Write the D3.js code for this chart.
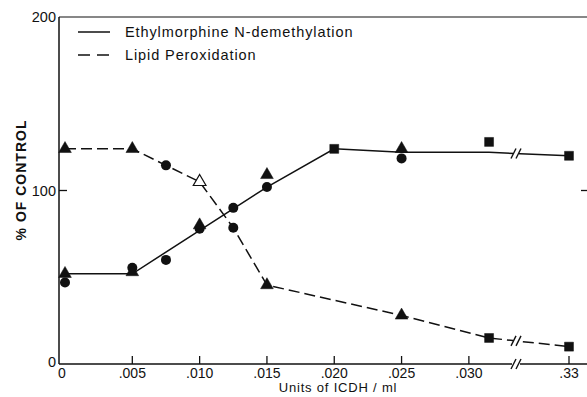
<!DOCTYPE html>
<html>
<head>
<meta charset="utf-8">
<script src="https://cdn.jsdelivr.net/npm/d3@7"></script>
<style>
  body { margin: 0; background: #fff; }
  svg { display: block; font-family: "Liberation Sans", Arial, sans-serif; }
</style>
</head>
<body>
<svg id="chart" width="587" height="397"></svg>
<script>
// ---------- Data ----------
const xTickValues = [0, 0.005, 0.010, 0.015, 0.020, 0.025, 0.030, 0.33];
const xTickLabels = ["0", ".005", ".010", ".015", ".020", ".025", ".030", ".33"];
const yTickValues = [0, 100, 200];

// Ethylmorphine N-demethylation (solid line)
const emLineDose = [0, 0.005, 0.015, 0.020, 0.025, 0.0315, 0.33];
const emLineVal  = [52, 52, 102, 124, 122, 122, 120];
const emCircleDose = [0, 0.005, 0.0075, 0.010, 0.0125, 0.015, 0.025];
const emCircleVal  = [47, 55.5, 60, 78, 90, 102, 118.5];
const emTriDose = [0, 0.005, 0.010, 0.015, 0.025];
const emTriVal  = [52, 53, 80, 109, 124];
const emSquareDose = [0.020, 0.0315, 0.33];
const emSquareVal  = [124, 128, 120];

// Lipid peroxidation (dashed line)
const lpLineDose = [0, 0.005, 0.0075, 0.010, 0.0125, 0.015, 0.025, 0.0315, 0.33];
const lpLineVal  = [124, 124, 114.5, 105, 78.5, 45.5, 28, 15, 10];
const lpTriDose = [0, 0.005, 0.015, 0.025];
const lpTriVal  = [124, 124, 45.5, 28];
const lpOpenTriDose = [0.010];
const lpOpenTriVal  = [105];
const lpCircleDose = [0.0075, 0.0125];
const lpCircleVal  = [114.5, 78.5];
const lpSquareDose = [0.0315, 0.33];
const lpSquareVal  = [15, 10];

const breakDose = 0.0335; // axis break between .030 and .33

// ---------- Layout ----------
const svg = d3.select("#chart");
const axisLeft = 59, axisRight = 587, axisTop = 17, axisBottom = 364;

// broken x axis: linear up to the break, then squeezed to .33
const x = d3.scaleLinear().domain([0, breakDose, 0.33]).range([65, 516, 569]);
const y = d3.scaleLinear().domain([0, 200]).range([axisBottom, axisTop]);

const zip = (a, b) => a.map((d, i) => [d, b[i]]);

// ---------- Frame ----------
const frame = svg.append("g").attr("stroke", "#111").attr("stroke-width", 1.5).attr("fill", "none");
frame.append("line").attr("x1", axisLeft).attr("x2", axisLeft).attr("y1", axisTop).attr("y2", axisBottom);
frame.append("line").attr("x1", axisLeft).attr("x2", axisRight).attr("y1", axisTop).attr("y2", axisTop).attr("stroke-width", 1.2);
// bottom axis with gap at the break
frame.append("line").attr("x1", axisLeft).attr("x2", x(breakDose) - 4).attr("y1", axisBottom).attr("y2", axisBottom);
frame.append("line").attr("x1", x(breakDose) + 4).attr("x2", axisRight).attr("y1", axisBottom).attr("y2", axisBottom);

// x ticks (pointing inward)
const xt = svg.append("g");
xt.selectAll("line").data(xTickValues.filter(d => d > 0)).join("line")
  .attr("x1", d => x(d)).attr("x2", d => x(d))
  .attr("y1", axisBottom).attr("y2", axisBottom - 8)
  .attr("stroke", "#111").attr("stroke-width", 1.3);
xt.selectAll("text").data(xTickValues).join("text")
  .attr("x", d => x(d) - (d === 0 ? 3 : 0))
  .attr("y", axisBottom + 14)
  .attr("text-anchor", "middle")
  .attr("font-size", 14)
  .attr("fill", "#111")
  .text((d, i) => xTickLabels[i]);

// y ticks
const yt = svg.append("g");
yt.selectAll("line").data(yTickValues.filter(d => d === 100)).join("line")
  .attr("x1", axisLeft).attr("x2", axisLeft + 8)
  .attr("y1", d => y(d)).attr("y2", d => y(d))
  .attr("stroke", "#111").attr("stroke-width", 1.3);
yt.selectAll("line.r").data(yTickValues.filter(d => d === 100)).join("line")
  .attr("class", "r")
  .attr("x1", axisRight - 6).attr("x2", axisRight)
  .attr("y1", d => y(d)).attr("y2", d => y(d))
  .attr("stroke", "#111").attr("stroke-width", 1.3);
yt.selectAll("text").data(yTickValues).join("text")
  .attr("x", axisLeft - 3)
  .attr("y", d => y(d) + (d === 0 ? 3 : 5))
  .attr("text-anchor", "end")
  .attr("font-size", 14.5)
  .attr("fill", "#111")
  .text(d => d);

// axis titles
svg.append("text")
  .attr("transform", "translate(26,180) rotate(-90)")
  .attr("text-anchor", "middle")
  .attr("font-size", 14).attr("font-weight", "bold")
  .attr("letter-spacing", 1)
  .attr("fill", "#111")
  .text("% OF CONTROL");

svg.append("text")
  .attr("x", 338).attr("y", 392)
  .attr("text-anchor", "middle")
  .attr("font-size", 13)
  .attr("letter-spacing", 0.8)
  .attr("fill", "#111")
  .text("Units of ICDH / ml");

// ---------- Lines ----------
const line = d3.line().x(d => x(d[0])).y(d => y(d[1]));

svg.append("path")
  .datum(zip(emLineDose, emLineVal))
  .attr("d", line)
  .attr("fill", "none").attr("stroke", "#111").attr("stroke-width", 1.5);

svg.append("path")
  .datum(zip(lpLineDose, lpLineVal))
  .attr("d", line)
  .attr("fill", "none").attr("stroke", "#111").attr("stroke-width", 1.5)
  .attr("stroke-dasharray", "11,5");

// ---------- Break marks ----------
function valueAt(doses, vals, d) {
  const i = d3.bisectRight(doses, d) - 1;
  const t = (x(d) - x(doses[i])) / (x(doses[i + 1]) - x(doses[i]));
  return y(vals[i]) + t * (y(vals[i + 1]) - y(vals[i]));
}
const breakYs = [
  valueAt(emLineDose, emLineVal, breakDose),
  valueAt(lpLineDose, lpLineVal, breakDose),
  axisBottom
];
const bx = x(breakDose);
const br = svg.append("g");
breakYs.forEach(by => {
  br.append("rect").attr("x", bx - 3).attr("y", by - 3).attr("width", 6).attr("height", 6).attr("fill", "#fff");
  [-2.5, 2.5].forEach(off => {
    br.append("line")
      .attr("x1", bx + off - 2.5).attr("y1", by + 5)
      .attr("x2", bx + off + 2.5).attr("y2", by - 5)
      .attr("stroke", "#111").attr("stroke-width", 1.4);
  });
});

// ---------- Markers ----------
const tri = d3.symbol().type(d3.symbolTriangle).size(70);
const sq = d3.symbol().type(d3.symbolSquare).size(80);
const marks = svg.append("g");

function circles(doses, vals) {
  marks.append("g").selectAll("circle").data(zip(doses, vals)).join("circle")
    .attr("cx", d => x(d[0])).attr("cy", d => y(d[1])).attr("r", 5)
    .attr("fill", "#111");
}
function symbols(doses, vals, gen, filled) {
  marks.append("g").selectAll("path").data(zip(doses, vals)).join("path")
    .attr("transform", d => `translate(${x(d[0])},${y(d[1])})`)
    .attr("d", gen)
    .attr("fill", filled ? "#111" : "#fff")
    .attr("stroke", "#111").attr("stroke-width", filled ? 0.5 : 1.2);
}

circles(emCircleDose, emCircleVal);
symbols(emTriDose, emTriVal, tri, true);
symbols(emSquareDose, emSquareVal, sq, true);
circles(lpCircleDose, lpCircleVal);
symbols(lpTriDose, lpTriVal, tri, true);
symbols(lpOpenTriDose, lpOpenTriVal, tri, false);
symbols(lpSquareDose, lpSquareVal, sq, true);

// ---------- Legend ----------
const legend = svg.append("g");
const legendItems = ["Ethylmorphine N-demethylation", "Lipid Peroxidation"];
legendItems.forEach((label, i) => {
  const ly = 32 + i * 23;
  legend.append("line")
    .attr("x1", 78).attr("x2", 110).attr("y1", ly).attr("y2", ly)
    .attr("stroke", "#111").attr("stroke-width", 1.5)
    .attr("stroke-dasharray", i === 1 ? "12,7" : null);
  legend.append("text")
    .attr("x", 125).attr("y", ly + 5)
    .attr("font-size", 14.5)
    .attr("letter-spacing", 0.9)
    .attr("fill", "#111")
    .text(label);
});
</script>
</body>
</html>
